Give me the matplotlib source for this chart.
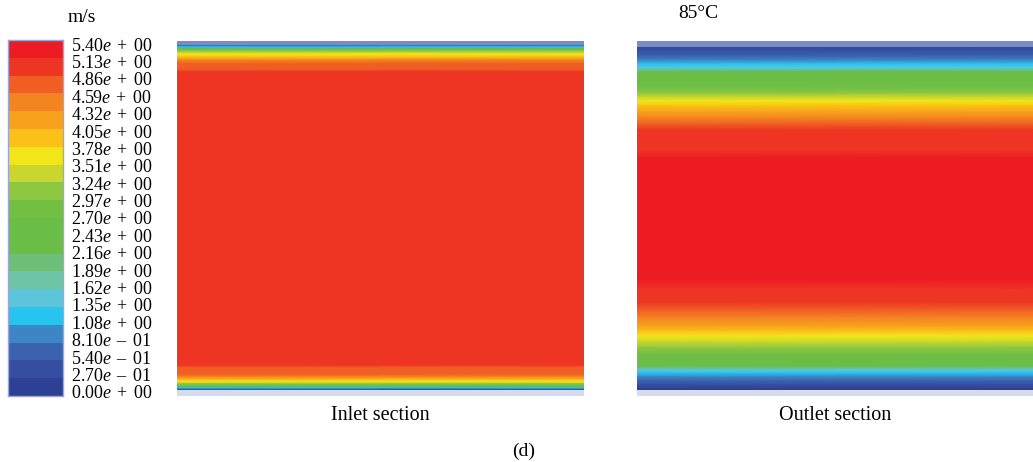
import matplotlib
matplotlib.use("Agg")
import matplotlib.pyplot as plt
from matplotlib.colors import ListedColormap, BoundaryNorm
import numpy as np

plt.rcParams["font.family"] = ["Liberation Serif", "DejaVu Serif"]
plt.rcParams["mathtext.fontset"] = "custom"
plt.rcParams["mathtext.rm"] = "Liberation Serif"
plt.rcParams["mathtext.it"] = "Liberation Serif:italic"

# ---------------------------------------------------------------------------
# Legend levels (m/s) and band colours, low -> high
# ---------------------------------------------------------------------------
levels = [0.00, 0.27, 0.54, 0.81, 1.08, 1.35, 1.62, 1.89, 2.16, 2.43, 2.70,
          2.97, 3.24, 3.51, 3.78, 4.05, 4.32, 4.59, 4.86, 5.13, 5.40]
level_mantissa = ["0.00", "2.70", "5.40", "8.10", "1.08", "1.35", "1.62",
                  "1.89", "2.16", "2.43", "2.70", "2.97", "3.24", "3.51",
                  "3.78", "4.05", "4.32", "4.59", "4.86", "5.13", "5.40"]
level_exponent = ["+ 00", "- 01", "- 01", "- 01", "+ 00", "+ 00", "+ 00",
                  "+ 00", "+ 00", "+ 00", "+ 00", "+ 00", "+ 00", "+ 00",
                  "+ 00", "+ 00", "+ 00", "+ 00", "+ 00", "+ 00", "+ 00"]
band_colors = ["#2e3f96", "#354ea1", "#3a62ae", "#3c86c6", "#27c4f0",
               "#5bc5db", "#6cc3a6", "#6dbe76", "#6abd45", "#6abd45",
               "#72bf44", "#8dc63f", "#c8d62e", "#f2e61a", "#fbc116",
               "#f7a21d", "#f4841f", "#f05e24", "#ee3524", "#ed1c24"]

# ---------------------------------------------------------------------------
# Velocity profiles across the section (0 = top wall, 1 = bottom wall)
# ---------------------------------------------------------------------------
inlet_pos = [0.000, 0.011, 0.017, 0.023, 0.028, 0.037, 0.045, 0.054, 0.065,
             0.079, 0.087, 0.913, 0.921, 0.938, 0.946, 0.955, 0.961, 0.966,
             0.972, 0.977, 0.983, 1.000]
inlet_vel = [0.30, 0.50, 1.20, 2.50, 3.20, 3.65, 3.95, 4.40, 4.70,
             4.75, 5.00, 5.00, 4.75, 4.70, 4.40, 3.95, 3.65, 3.20,
             2.50, 1.20, 0.50, 0.30]

outlet_pos = [0.000, 0.025, 0.042, 0.054, 0.065, 0.076, 0.087, 0.110, 0.132,
              0.146, 0.158, 0.169, 0.183, 0.200, 0.217, 0.234, 0.251, 0.279,
              0.307, 0.330, 0.504, 0.673, 0.701, 0.735, 0.758, 0.780, 0.803,
              0.817, 0.831, 0.848, 0.865, 0.882, 0.899, 0.915, 0.927, 0.935,
              0.946, 0.958, 0.969, 0.980, 1.000]
outlet_vel = [0.15, 0.35, 0.65, 0.95, 1.25, 1.55, 2.20, 2.50, 2.80,
              3.10, 3.40, 3.65, 3.95, 4.20, 4.45, 4.70, 4.90, 5.05,
              5.10, 5.20, 5.30, 5.20, 5.05, 4.90, 4.70, 4.45, 4.20,
              3.90, 3.65, 3.40, 3.10, 2.80, 2.50, 2.20, 1.55, 1.25,
              0.95, 0.65, 0.35, 0.15, 0.00]

cmap = ListedColormap(band_colors)
norm = BoundaryNorm(levels, cmap.N)

W, H = 1033, 462
fig = plt.figure(figsize=(W / 100, H / 100), dpi=100)


def px_axes(x0, y0, x1, y1):
    # axes from pixel box (top-left origin)
    return fig.add_axes([x0 / W, 1 - y1 / H, (x1 - x0) / W, (y1 - y0) / H])


# ---------------------------------------------------------------------------
# Colour legend
# ---------------------------------------------------------------------------
cax = px_axes(8, 40, 63, 396)
lv = np.array(levels)
mid = (lv[0] + lv[-1]) / 2
edges = mid + (lv - mid) * 1.023
centers = (lv[:-1] + lv[1:]) / 2
cax.pcolormesh([0, 1], edges, centers[:, None], cmap=cmap, norm=norm)
cax.set_ylim(edges[0], edges[-1])
cax.set_xlim(0, 1)
cax.set_xticks([])
cax.yaxis.tick_right()
cax.set_yticks(levels)
tick_text = [r"$\mathrm{%s}\mathit{e}\enspace\mathrm{%s}\enspace\mathrm{%s}$"
             % (m, e.split()[0].replace("-", "\u2013"), e.split()[1])
             for m, e in zip(level_mantissa, level_exponent)]
cax.set_yticklabels(tick_text, fontsize=13)
cax.tick_params(axis="y", length=0, pad=5.5)
for sp in cax.spines.values():
    sp.set_color("#9aa6d6")
    sp.set_linewidth(1.0)

fig.text(82 / W, 1 - 17 / H, "m/s", fontsize=14, ha="center", va="center")


# ---------------------------------------------------------------------------
# Section contours
# ---------------------------------------------------------------------------
def draw_section(ax, pos, vel, top_strip, label):
    v = np.array(vel)
    ax.pcolormesh([0, 1], pos, np.column_stack([v, v]),
                  cmap=cmap, norm=norm, shading="gouraud")
    ax.axhspan(0, top_strip, color="#7a8cc8", lw=0)
    ax.axhspan(0.983, 1.0, color="#d6dbee", lw=0)
    ax.set_xlim(0, 1)
    ax.set_ylim(1, 0)
    ax.axis("off")
    ax.text(0.5, -0.054, label, transform=ax.transAxes, fontsize=14.5,
            ha="center", va="center")


ax_in = px_axes(177, 41, 584, 396)
draw_section(ax_in, inlet_pos, inlet_vel, 0.011, "Inlet section")

ax_out = px_axes(637, 41, 1033, 396)
draw_section(ax_out, outlet_pos, outlet_vel, 0.016, "Outlet section")

fig.text(698 / W, 1 - 14 / H, "85°C", fontsize=14, ha="center", va="center")
fig.text(524 / W, 1 - 451 / H, "(d)", fontsize=14, ha="center", va="center")

fig.savefig("out.png", dpi=100)
